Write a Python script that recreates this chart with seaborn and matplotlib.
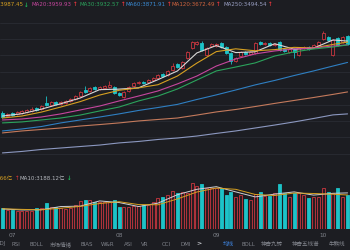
import numpy as np
import pandas as pd
import matplotlib.pyplot as plt
import seaborn as sns

# daily candles, last 2 days of June -> late October
opens = [3549, 3530, 3549, 3543, 3549, 3555, 3561, 3579, 3573, 3610,
         3598, 3616, 3604, 3610, 3622, 3634, 3652, 3689, 3683, 3707,
         3695, 3701, 3707, 3707, 3671, 3646, 3683, 3713, 3732, 3738,
         3738, 3750, 3762, 3787, 3780, 3811, 3848, 3823, 3884, 3945,
         3970, 3976, 3902, 3957, 3957, 3976, 3951, 3915, 3866, 3896,
         3921, 3909, 3915, 3982, 3970, 3976, 3964, 3982, 3939, 3921,
         3939, 3902, 3945, 3951, 3951, 3964, 4000, 4012, 3902, 4006,
         3982, 4018]
closes = [3524, 3543, 3536, 3555, 3561, 3567, 3573, 3567, 3591, 3598,
          3616, 3604, 3616, 3622, 3634, 3652, 3677, 3677, 3701, 3695,
          3707, 3713, 3720, 3671, 3659, 3677, 3707, 3732, 3738, 3732,
          3750, 3762, 3780, 3774, 3805, 3835, 3829, 3860, 3921, 3982,
          3982, 3933, 3945, 3970, 3970, 3951, 3915, 3866, 3884, 3921,
          3909, 3921, 3976, 3970, 3976, 3964, 3970, 3933, 3927, 3939,
          3921, 3945, 3951, 3939, 3964, 3982, 4037, 3994, 3994, 3964,
          4012, 3970]
highs = [3561, 3549, 3555, 3561, 3567, 3573, 3585, 3585, 3598, 3652,
         3622, 3622, 3622, 3628, 3640, 3659, 3683, 3713, 3707, 3713,
         3713, 3720, 3744, 3713, 3677, 3683, 3713, 3738, 3744, 3744,
         3756, 3768, 3787, 3793, 3811, 3854, 3854, 3866, 3927, 3988,
         3988, 3988, 3951, 3976, 3976, 3982, 3957, 3921, 3890, 3927,
         3927, 3927, 3982, 3988, 3982, 3982, 3976, 3988, 3945, 3945,
         3945, 3951, 3957, 3957, 3970, 3988, 4049, 4018, 4000, 4012,
         4018, 4024]
lows = [3518, 3524, 3530, 3536, 3543, 3549, 3555, 3561, 3567, 3591,
        3591, 3598, 3598, 3604, 3616, 3628, 3646, 3671, 3677, 3689,
        3689, 3695, 3701, 3665, 3652, 3640, 3677, 3707, 3726, 3726,
        3732, 3744, 3756, 3768, 3774, 3805, 3823, 3817, 3878, 3939,
        3964, 3927, 3896, 3951, 3951, 3945, 3909, 3848, 3860, 3890,
        3902, 3902, 3909, 3964, 3964, 3957, 3957, 3927, 3921, 3915,
        3884, 3896, 3939, 3933, 3945, 3957, 3994, 3988, 3896, 3957,
        3976, 3964]
# volume, 亿
volumes = [1974, 1786, 1786, 1692, 1692, 1692, 1692, 1974, 1974, 2444,
           2068, 2068, 1974, 1880, 1974, 2256, 2632, 2726, 2726, 2538,
           2538, 2538, 2538, 2726, 2068, 2068, 2068, 2162, 2162, 2256,
           2256, 2538, 2914, 3008, 3196, 3572, 3384, 3478, 3384, 4324,
           4042, 4230, 3854, 3854, 3854, 3854, 3196, 3478, 3008, 3196,
           2820, 2726, 3290, 3478, 3102, 3102, 3384, 4230, 3384, 3008,
           3384, 3384, 3196, 2914, 3008, 3008, 3854, 3478, 3384, 3854,
           3008, 3196]
month_idx = [2, 24, 44, 66]
month_labels = ["07", "08", "09", "10"]

# moving averages read every 4 sessions
ma_idx = [0, 4, 8, 12, 16, 20, 24, 28, 32, 36, 40, 44, 48, 52, 56, 60, 64, 68, 71]
ma5 = [3530, 3544, 3572, 3605, 3640, 3691, 3694, 3702, 3752, 3805,
       3915, 3960, 3917, 3922, 3971, 3938, 3944, 3994, 3987]
ma10 = [3518, 3530, 3554, 3585, 3618, 3658, 3687, 3702, 3721, 3774,
        3853, 3923, 3940, 3928, 3935, 3949, 3945, 3967, 3981]
ma20 = [3506, 3512, 3524, 3543, 3567, 3591, 3622, 3652, 3683, 3726,
        3774, 3835, 3878, 3909, 3927, 3939, 3945, 3957, 3964]
ma30 = [3488, 3494, 3506, 3518, 3536, 3561, 3585, 3622, 3652, 3695,
        3750, 3805, 3829, 3854, 3896, 3921, 3939, 3951, 3964]
ma60 = [3439, 3451, 3466, 3488, 3506, 3524, 3543, 3564, 3582, 3601,
        3631, 3659, 3689, 3720, 3747, 3777, 3805, 3835, 3857]
ma120 = [3427, 3439, 3448, 3457, 3469, 3478, 3488, 3500, 3509, 3518,
         3536, 3555, 3570, 3588, 3607, 3625, 3643, 3662, 3677]
ma250 = [3305, 3314, 3326, 3335, 3344, 3353, 3366, 3375, 3387, 3396,
         3408, 3424, 3439, 3457, 3475, 3494, 3515, 3537, 3543]
vol_ma5 = [1880, 1786, 1805, 2106, 2143, 2632, 2482, 2106, 2425, 3215,
           3722, 3967, 3478, 3008, 3271, 3478, 3177, 3346, 3384]
vol_ma10 = [1900, 1840, 1800, 1950, 2120, 2390, 2560, 2290, 2270, 2820,
            3470, 3840, 3720, 3240, 3140, 3370, 3330, 3260, 3188]

top_legend = [("MA10:3987.45", "#d6a021", "↓", "#1fb85a"),
              ("MA20:3959.93", "#c6469e", "↑", "#e0363c"),
              ("MA30:3932.57", "#2ba35c", "↑", "#e0363c"),
              ("MA60:3871.91", "#3a8cd6", "↑", "#e0363c"),
              ("MA120:3672.49", "#d0643e", "↑", "#e0363c"),
              ("MA250:3494.54", "#9aa0c4", "↑", "#e0363c")]
top_legend_x = [23, 32, 80, 126, 171, 223]
tabs = ["KDJ", "RSI", "BOLL", "市场情绪", "BIAS", "W&R", "ASI", "VR", "CCI", "DMI",
        "均线", "BOLL", "神奇九转", "神奇五线谱", "牛熊线"]
tabs_x = [1, 16, 36, 61, 87, 108, 128, 145, 166, 186, 228, 248, 272, 306, 337]

BG = "#1c1d22"
GRID = "#2a2c33"
RED = "#c8373f"
CYAN = "#1cc3c8"
TXT = "#80838b"

sns.set_theme(style="dark", rc={"axes.facecolor": BG, "figure.facecolor": BG})
plt.rcParams["font.family"] = ["DejaVu Sans", "Noto Sans CJK SC"]

fig = plt.figure(figsize=(3.5, 2.5), dpi=100)
ax = fig.add_axes([0, 0.328, 1, 0.64])
axv = fig.add_axes([0, 0.084, 1, 0.192])

x = np.arange(len(closes))
o = np.array(opens)
c = np.array(closes)
up = c >= o
cols = np.where(up, RED, CYAN)
faces = np.where(up, BG, CYAN)

# candles
ax.vlines(x, lows, highs, colors=cols, lw=0.6, zorder=2)
body = np.maximum(np.abs(c - o), 2)
ax.bar(x, body, bottom=np.minimum(o, c), width=0.62, color=faces,
       edgecolor=cols, lw=0.6, zorder=3)

ma = pd.DataFrame({"idx": ma_idx, "MA5": ma5, "MA10": ma10, "MA20": ma20,
                   "MA30": ma30, "MA60": ma60, "MA120": ma120, "MA250": ma250})
ma_long = ma.melt(id_vars="idx", var_name="line", value_name="price")
pal = {"MA5": "#d9d9d9", "MA10": "#d6a021", "MA20": "#c6469e", "MA30": "#2ba35c",
       "MA60": "#2f7fc2", "MA120": "#c47a5c", "MA250": "#8c98c0"}
sns.lineplot(data=ma_long, x="idx", y="price", hue="line", palette=pal,
             lw=0.8, legend=False, ax=ax, zorder=4)

ax.set_xlim(-0.5, len(closes) - 0.5)
ax.set_ylim(3213, 4189)
ax.set_yticks(range(3300, 4200, 100))
ax.grid(axis="y", color=GRID, lw=0.6)
ax.grid(axis="x", visible=False)
ax.tick_params(left=False, bottom=False, labelleft=False, labelbottom=False)
ax.set_xlabel("")
ax.set_ylabel("")
for s in ax.spines.values():
    s.set_visible(False)

# volume
vfaces = np.where(up, "#2a1d21", CYAN)
axv.bar(x, volumes, width=0.62, color=vfaces, edgecolor=cols, lw=0.6, zorder=2)
vma = pd.DataFrame({"idx": ma_idx, "MA5": vol_ma5, "MA10": vol_ma10})
vma_long = vma.melt(id_vars="idx", var_name="line", value_name="vol")
sns.lineplot(data=vma_long, x="idx", y="vol", hue="line",
             palette={"MA5": "#cfd0d4", "MA10": "#d6a021"},
             lw=0.7, legend=False, ax=axv, zorder=3)
axv.set_xlim(-0.5, len(closes) - 0.5)
axv.set_ylim(0, 4500)
axv.set_yticks([])
axv.grid(False)
axv.set_xticks(month_idx)
axv.set_xticklabels(month_labels)
axv.tick_params(axis="x", length=2, width=0.6, color="#9a9da4", pad=1,
                labelsize=4.2, labelcolor=TXT, direction="out")
axv.tick_params(left=False, labelleft=False)
axv.set_xlabel("")
axv.set_ylabel("")
for s in axv.spines.values():
    s.set_visible(False)

# legends along the top of each panel
for (label, col, arrow, acol), px in zip(top_legend, top_legend_x):
    ha = "right" if px == top_legend_x[0] else "left"
    t = fig.text(px / 350, 0.98, label, color=col, fontsize=4, ha=ha, va="center")
    fig.canvas.draw()
    bb = t.get_window_extent()
    fig.text(bb.x1 / 350 + 0.003, 0.98, arrow, color=acol, fontsize=4,
             ha="left", va="center", fontweight="bold")

fig.text(13 / 350, 0.288, "MA5:3366亿", color="#d6a021", fontsize=4,
         ha="right", va="center")
fig.text(15 / 350, 0.288, "↑", color="#e0363c", fontsize=4, ha="left", va="center")
t = fig.text(20 / 350, 0.288, "MA10:3188.12亿", color="#b4b7bd", fontsize=4,
             ha="left", va="center")
fig.canvas.draw()
bb = t.get_window_extent()
fig.text(bb.x1 / 350 + 0.004, 0.288, "↓", color="#1fb85a", fontsize=4,
         ha="left", va="center", fontweight="bold")

# indicator tabs
for label, px in zip(tabs, tabs_x):
    col = "#3d82dc" if label == "均线" else TXT
    fig.text(px / 350, 0.024, label, color=col, fontsize=4, ha="center", va="center")
fig.text(199 / 350, 0.024, ">", color="#c8cad0", fontsize=4.5, ha="center",
         va="center", fontweight="bold")

fig.savefig("out.png", dpi=100, facecolor=BG)
